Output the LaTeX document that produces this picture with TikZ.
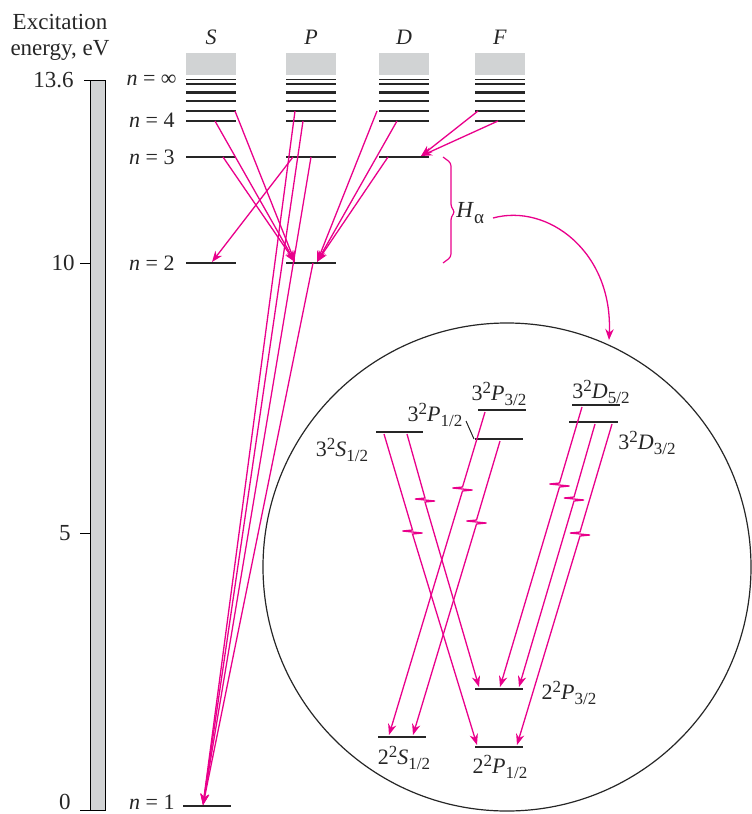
\documentclass[tikz,border=0pt]{standalone}
\usepackage{fontspec}
\setmainfont{Liberation Serif}
\usetikzlibrary{arrows.meta}
\definecolor{mag}{RGB}{233,0,139}
\definecolor{lgray}{RGB}{209,211,212}
\newcommand\myup[1]{\raisebox{0.75ex}{\fontsize{8.5}{9}\selectfont #1}}
\newcommand\mydn[1]{\raisebox{-0.5ex}{\fontsize{8.5}{9}\selectfont #1}}
\tikzset{
 lvl/.style={line width=1.1pt, black!85},
 thinlvl/.style={line width=0.55pt, black!85},
 trans/.style={mag, line width=0.65pt, -{Stealth[length=5.5pt,width=4.2pt]}},
 axl/.style={font=\fontsize{11.5}{13}\selectfont, inner sep=0pt, text=black!85},
 lab/.style={font=\fontsize{11}{12}\selectfont, inner sep=0pt, text=black!85},
}
\newcommand\zig[3]{\draw[trans] (#1) -- (#2) -- ++(-10,1) -- ++(20,2) -- ++(-10,1) -- (#3);}
\begin{document}
\begin{tikzpicture}[x=0.5pt,y=-0.5pt]
\useasboundingbox (0,0) rectangle (751,814);

% energy axis
\node[axl, anchor=base] (exc) at (60,29) {Excitation};
\node[axl, anchor=base] (eng) at (60,55) {energy, eV};
\draw[fill=lgray, line width=0.5pt] (90,80) rectangle (105,810);
\draw[line width=0.5pt] (84,80)--(90,80) (80,263)--(90,263) (80,533)--(90,533) (80,810)--(90,810);
\node[axl, anchor=east] (e136) at (74,80) {13.6};
\node[axl, anchor=east] (e10) at (75,263) {10};
\node[axl, anchor=east] (e5) at (71,533) {5};
\node[axl, anchor=east] (e0) at (71,802) {0};

% columns
\foreach \c/\x in {S/186, P/286, D/379, F/475} {
  \fill[lgray] (\x,53) rectangle ++(50,22);
  \draw[thinlvl] (\x,79.5) -- ++(50,0);
  \foreach \y in {84,92.5,101,111,121} \draw[lvl] (\x,\y) -- ++(50,0);
  \node[lab] (col\c) at (\x+25,37) {\textit{\c}};
}
\draw[lvl] (186,157) -- ++(50,0);
\draw[lvl] (286,157) -- ++(50,0);
\draw[lvl] (379,157) -- ++(50,0);
\draw[lvl] (186,263) -- ++(50,0);
\draw[lvl] (286,263) -- ++(50,0);
\draw[lvl] (183,806) -- (231,806);

\node[lab, anchor=east] (ninf) at (177,80) {\textit{n} = ∞};
\node[lab, anchor=east] (n4) at (175,120) {\textit{n} = 4};
\node[lab, anchor=east] (n3) at (175,157) {\textit{n} = 3};
\node[lab, anchor=east] (n2) at (175,263) {\textit{n} = 2};
\node[lab, anchor=east] (n1) at (175,802) {\textit{n} = 1};

% transition endpoints
\coordinate (S5) at (235,111);
\coordinate (S4) at (215,121);
\coordinate (S3) at (223,157);
\coordinate (P5) at (295,111);
\coordinate (P4) at (303,121);
\coordinate (P3a) at (293,157);
\coordinate (P3b) at (311,157);
\coordinate (P2b) at (313,263);
\coordinate (D5) at (377,111);
\coordinate (D4) at (397,121);
\coordinate (D3) at (388,157);
\coordinate (F5) at (478,111);
\coordinate (F4) at (498,121);
\coordinate (tP2a) at (295,262);
\coordinate (tP2b) at (317,262);
\coordinate (tS2) at (212,262);
\coordinate (tD3) at (421,156);
\coordinate (tN1) at (203,805);

\foreach \s in {S5,S4,S3} \draw[trans] (\s) -- (tP2a);
\foreach \s in {D5,D4,D3} \draw[trans] (\s) -- (tP2b);
\foreach \s in {F5,F4} \draw[trans] (\s) -- (tD3);
\draw[trans] (P3a) -- (tS2);
\foreach \s in {P5,P4,P3b,P2b} \draw[trans] (\s) -- (tN1);

% H alpha brace
\draw[mag, line width=0.6pt, rounded corners=1.5pt] (443,157) -- (451,163) -- (451,207) -- (455,212) -- (451,217) -- (451,257) -- (443,263);
\node[anchor=west, inner sep=0pt, text=black!85, font=\fontsize{11.5}{13}\selectfont] (Ha) at (456,213) {\textit{H}\raisebox{-0.5ex}{\fontsize{9.5}{10}\selectfont α}};
\coordinate (cs) at (493,218);
\coordinate (ce) at (609,340);
\draw[trans] (cs) .. controls (548,203) and (613,252) .. (ce);

% circle
\draw[line width=0.6pt, black!85] (507,567) circle [radius=122pt];

% fine-structure levels
\draw[lvl] (376,432) -- (423,432);
\draw[lvl] (475,439) -- (523,439);
\draw[lvl] (478,410) -- (526,410);
\draw[lvl] (572,405) -- (620,405);
\draw[lvl] (569,422) -- (618,422);
\draw[lvl] (475,689) -- (523,689);
\draw[lvl] (475,747) -- (523,747);
\draw[lvl] (378,737) -- (426,737);

\node[lab] (l3S) at (342,450) {3\myup{2}\textit{S}\mydn{1/2}};
\node[lab] (l3P1) at (435,415) {3\myup{2}\textit{P}\mydn{1/2}};
\draw[line width=0.5pt, black!85] (466,421) -- (474,439);
\node[lab] (l3P3) at (499,394) {3\myup{2}\textit{P}\mydn{3/2}};
\node[lab] (l3D5) at (601,392) {3\myup{2}\textit{D}\mydn{5/2}};
\node[lab] (l3D3) at (647,443) {3\myup{2}\textit{D}\mydn{3/2}};
\node[lab] (l2P3) at (569,693) {2\myup{2}\textit{P}\mydn{3/2}};
\node[lab] (l2S) at (404,758) {2\myup{2}\textit{S}\mydn{1/2}};
\node[lab] (l2P1) at (500,767) {2\myup{2}\textit{P}\mydn{1/2}};

% fine-structure transitions
\coordinate (a1) at (384,434); \coordinate (z1) at (412.5,530); \coordinate (t1) at (477,745);
\coordinate (a2) at (407,434); \coordinate (z2) at (425,498); \coordinate (t2) at (479,687);
\coordinate (a3) at (485,412); \coordinate (z3) at (462.5,487); \coordinate (t3) at (389,735);
\coordinate (a4) at (500,441); \coordinate (z4) at (476.5,520); \coordinate (t4) at (413,735);
\coordinate (a5) at (582,407); \coordinate (z5) at (559.5,483); \coordinate (t5) at (500,687);
\coordinate (a6) at (595,424); \coordinate (z6) at (574,497); \coordinate (t6) at (519,687);
\coordinate (a7) at (612,424); \coordinate (z7) at (580,532); \coordinate (t7) at (517,745);
\zig{a1}{z1}{t1}
\zig{a2}{z2}{t2}
\zig{a3}{z3}{t3}
\zig{a4}{z4}{t4}
\zig{a5}{z5}{t5}
\zig{a6}{z6}{t6}
\zig{a7}{z7}{t7}
\end{tikzpicture}
\end{document}
